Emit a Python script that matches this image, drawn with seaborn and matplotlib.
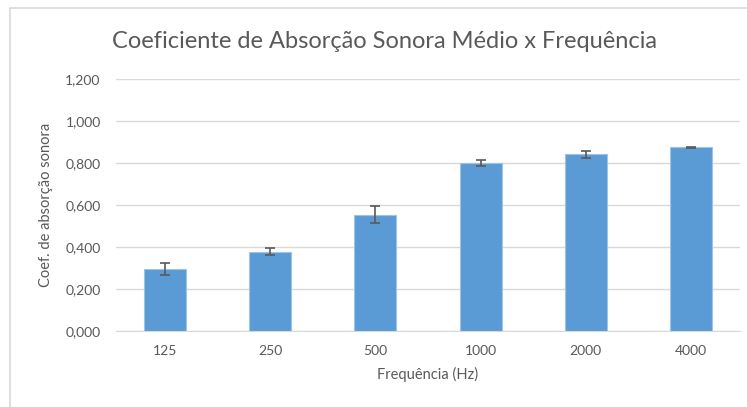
import matplotlib
matplotlib.use("Agg")
import matplotlib.pyplot as plt
import matplotlib.ticker as mticker
import pandas as pd
import seaborn as sns

# values
frequencies = ["125", "250", "500", "1000", "2000", "4000"]
mean_coef = [0.295, 0.378, 0.554, 0.802, 0.841, 0.875]
coef_err = [0.027, 0.018, 0.042, 0.014, 0.018, 0.003]
y_ticks = [0.0, 0.2, 0.4, 0.6, 0.8, 1.0, 1.2]

df = pd.DataFrame({"freq": frequencies, "coef": mean_coef, "err": coef_err})

sns.set_style("white")
plt.rcParams["font.family"] = ["Lato", "DejaVu Sans"]

text_grey = "#595959"
bar_blue = "#5B9BD5"

fig = plt.figure(figsize=(7.47, 4.07), dpi=100)
ax = fig.add_axes([0.1553, 0.1867, 0.8353, 0.6192])

sns.barplot(data=df, x="freq", y="coef", order=frequencies, color=bar_blue,
            width=0.4, edgecolor="#9DC3E6", linewidth=0.8, saturation=1,
            errorbar=None, ax=ax, zorder=3)
ax.errorbar(range(len(frequencies)), df["coef"], yerr=df["err"], fmt="none",
            ecolor=text_grey, elinewidth=1.2, capsize=3.5, capthick=1.2, zorder=4)

ax.set_ylim(0, 1.2)
ax.set_yticks(y_ticks)
ax.yaxis.set_major_formatter(mticker.FuncFormatter(lambda v, p: f"{v:.3f}".replace(".", ",")))
ax.grid(axis="y", color="#D9D9D9", linewidth=1.0, zorder=0)
ax.set_axisbelow(True)
for side in ["top", "right", "left"]:
    ax.spines[side].set_visible(False)
ax.spines["bottom"].set_color("#D9D9D9")
ax.tick_params(axis="both", length=0, labelsize=10, colors=text_grey)
ax.tick_params(axis="y", pad=11)
ax.tick_params(axis="x", pad=10)

ax.set_xlabel("Frequência (Hz)", fontsize=10.5, color=text_grey, labelpad=7)
ax.set_ylabel("Coef. de absorção sonora", fontsize=10.5, color=text_grey, labelpad=9)

fig.text(385 / 747, 1 - 42 / 407, "Coeficiente de Absorção Sonora Médio x Frequência",
         ha="center", va="center", fontsize=17, color=text_grey)

# chart-area frame like the spreadsheet export
frame = plt.Rectangle((10 / 747, -0.01), 1.0, 1 - 8 / 407 + 0.01, transform=fig.transFigure,
                      fill=False, edgecolor="#D9D9D9", linewidth=1.2)
fig.patches.append(frame)

fig.savefig("out.png", dpi=100)
plt.close(fig)
